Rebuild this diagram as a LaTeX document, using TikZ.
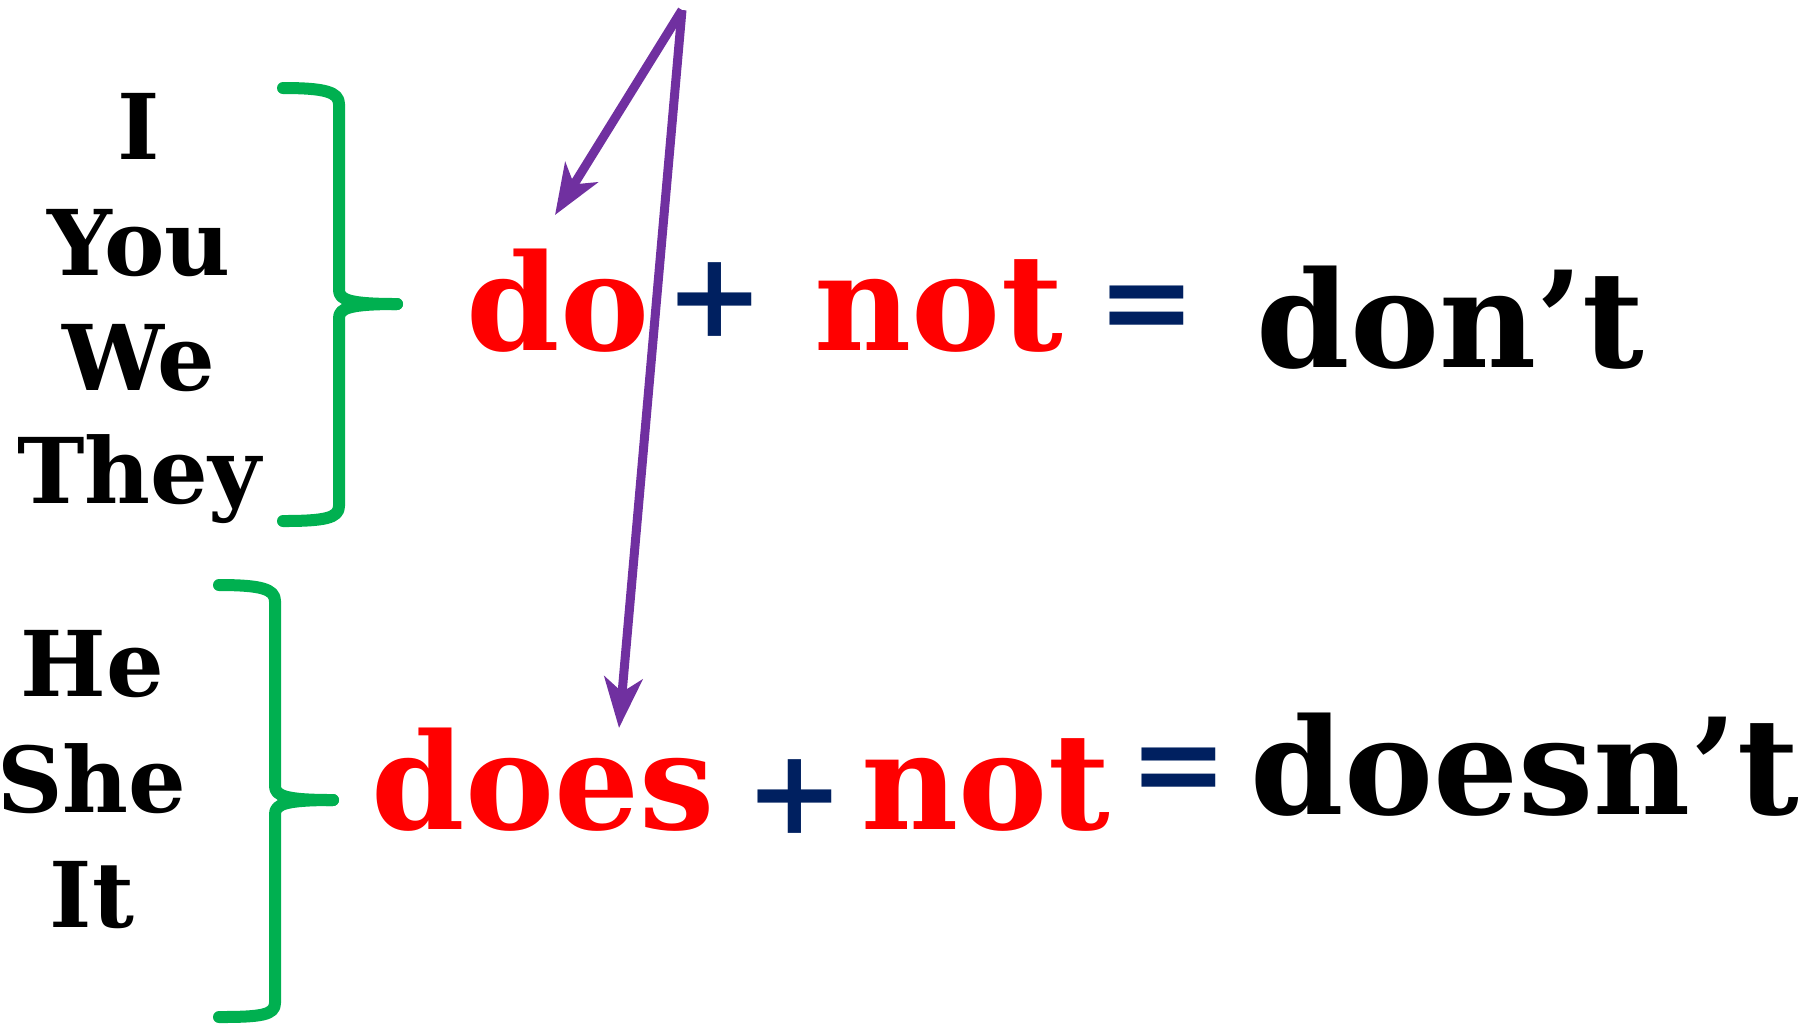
\documentclass[tikz,border=0pt]{standalone}
\usepackage{fontspec}
\setmainfont{DejaVu Serif}
\usetikzlibrary{arrows.meta}
\definecolor{VerbRed}{HTML}{FF0000}
\definecolor{OpNavy}{HTML}{002060}
\definecolor{BraceGreen}{HTML}{00B050}
\definecolor{ArrowPurple}{HTML}{7030A0}

\begin{document}
\begin{tikzpicture}[x=0.01cm,y=-0.01cm,
  pron/.style={font=\fontsize{25.8}{30}\selectfont\bfseries, anchor=base, inner sep=0pt},
  word/.style={font=\fontsize{38}{44}\selectfont\bfseries, anchor=base west, inner sep=0pt},
  verb/.style={word, text=VerbRed},
  oper/.style={font=\fontsize{33.5}{40}\selectfont\bfseries, text=OpNavy, anchor=center, inner sep=0pt},
  brace/.style={BraceGreen, line width=0.12cm, line cap=round, line join=round},
  pointer/.style={ArrowPurple, line width=0.09cm, -{Stealth[length=0.5cm,width=0.38cm,inset=0.14cm]}}]
  \useasboundingbox (0,0) rectangle (1810,1023);

  % pronouns
  \node[pron] (i)    at (139,159) {I};
  \node[pron] (you)  at (139,275) {You};
  \node[pron] (we)   at (139,390) {We};
  \node[pron] (they) at (139,503) {They};
  \node[pron] (he)   at (92,696) {He};
  \node[pron] (she)  at (92,812) {She};
  \node[pron] (it)   at (92,927) {It};

  % braces
  \draw[brace] (283,88) .. controls (325,88) and (339,92) .. (339,104) -- (339,290)
    .. controls (339,300) and (350,304) .. (397,304);
  \draw[brace] (397,304) .. controls (350,304) and (339,308) .. (339,318) -- (339,506)
    .. controls (339,518) and (325,521) .. (283,521);
  \draw[brace] (219,585) .. controls (261,585) and (275,589) .. (275,601) -- (275,786)
    .. controls (275,796) and (286,800) .. (333,800);
  \draw[brace] (333,800) .. controls (286,800) and (275,804) .. (275,814) -- (275,1003)
    .. controls (275,1015) and (261,1017) .. (219,1017);

  % do + not = don't
  \node[verb] (do)    at (466,350) {do};
  \node[oper] (plus1) at (715,300) {+};
  \node[verb] (not1)  at (814,350) {not};
  \node[oper] (eq1)   at (1147,314) {=};
  \node[word] (dont)  at (1256,367) {don’t};

  % does + not = doesn't
  \node[verb] (does)    at (371,829) {does};
  \node[oper] (plus2)   at (795,797) {+};
  \node[verb] (not2)    at (861,829) {not};
  \node[oper] (eq2)     at (1179,776) {=};
  \node[word] (doesnt)  at (1250,814) {doesn’t};

  % arrows
  \coordinate (origin)   at (682,10);
  \coordinate (doMark)   at (555,215);
  \coordinate (doesMark) at (619,728);
  \draw[pointer] (origin) -- (doMark);
  \draw[pointer] (origin) -- (doesMark);
\end{tikzpicture}
\end{document}
